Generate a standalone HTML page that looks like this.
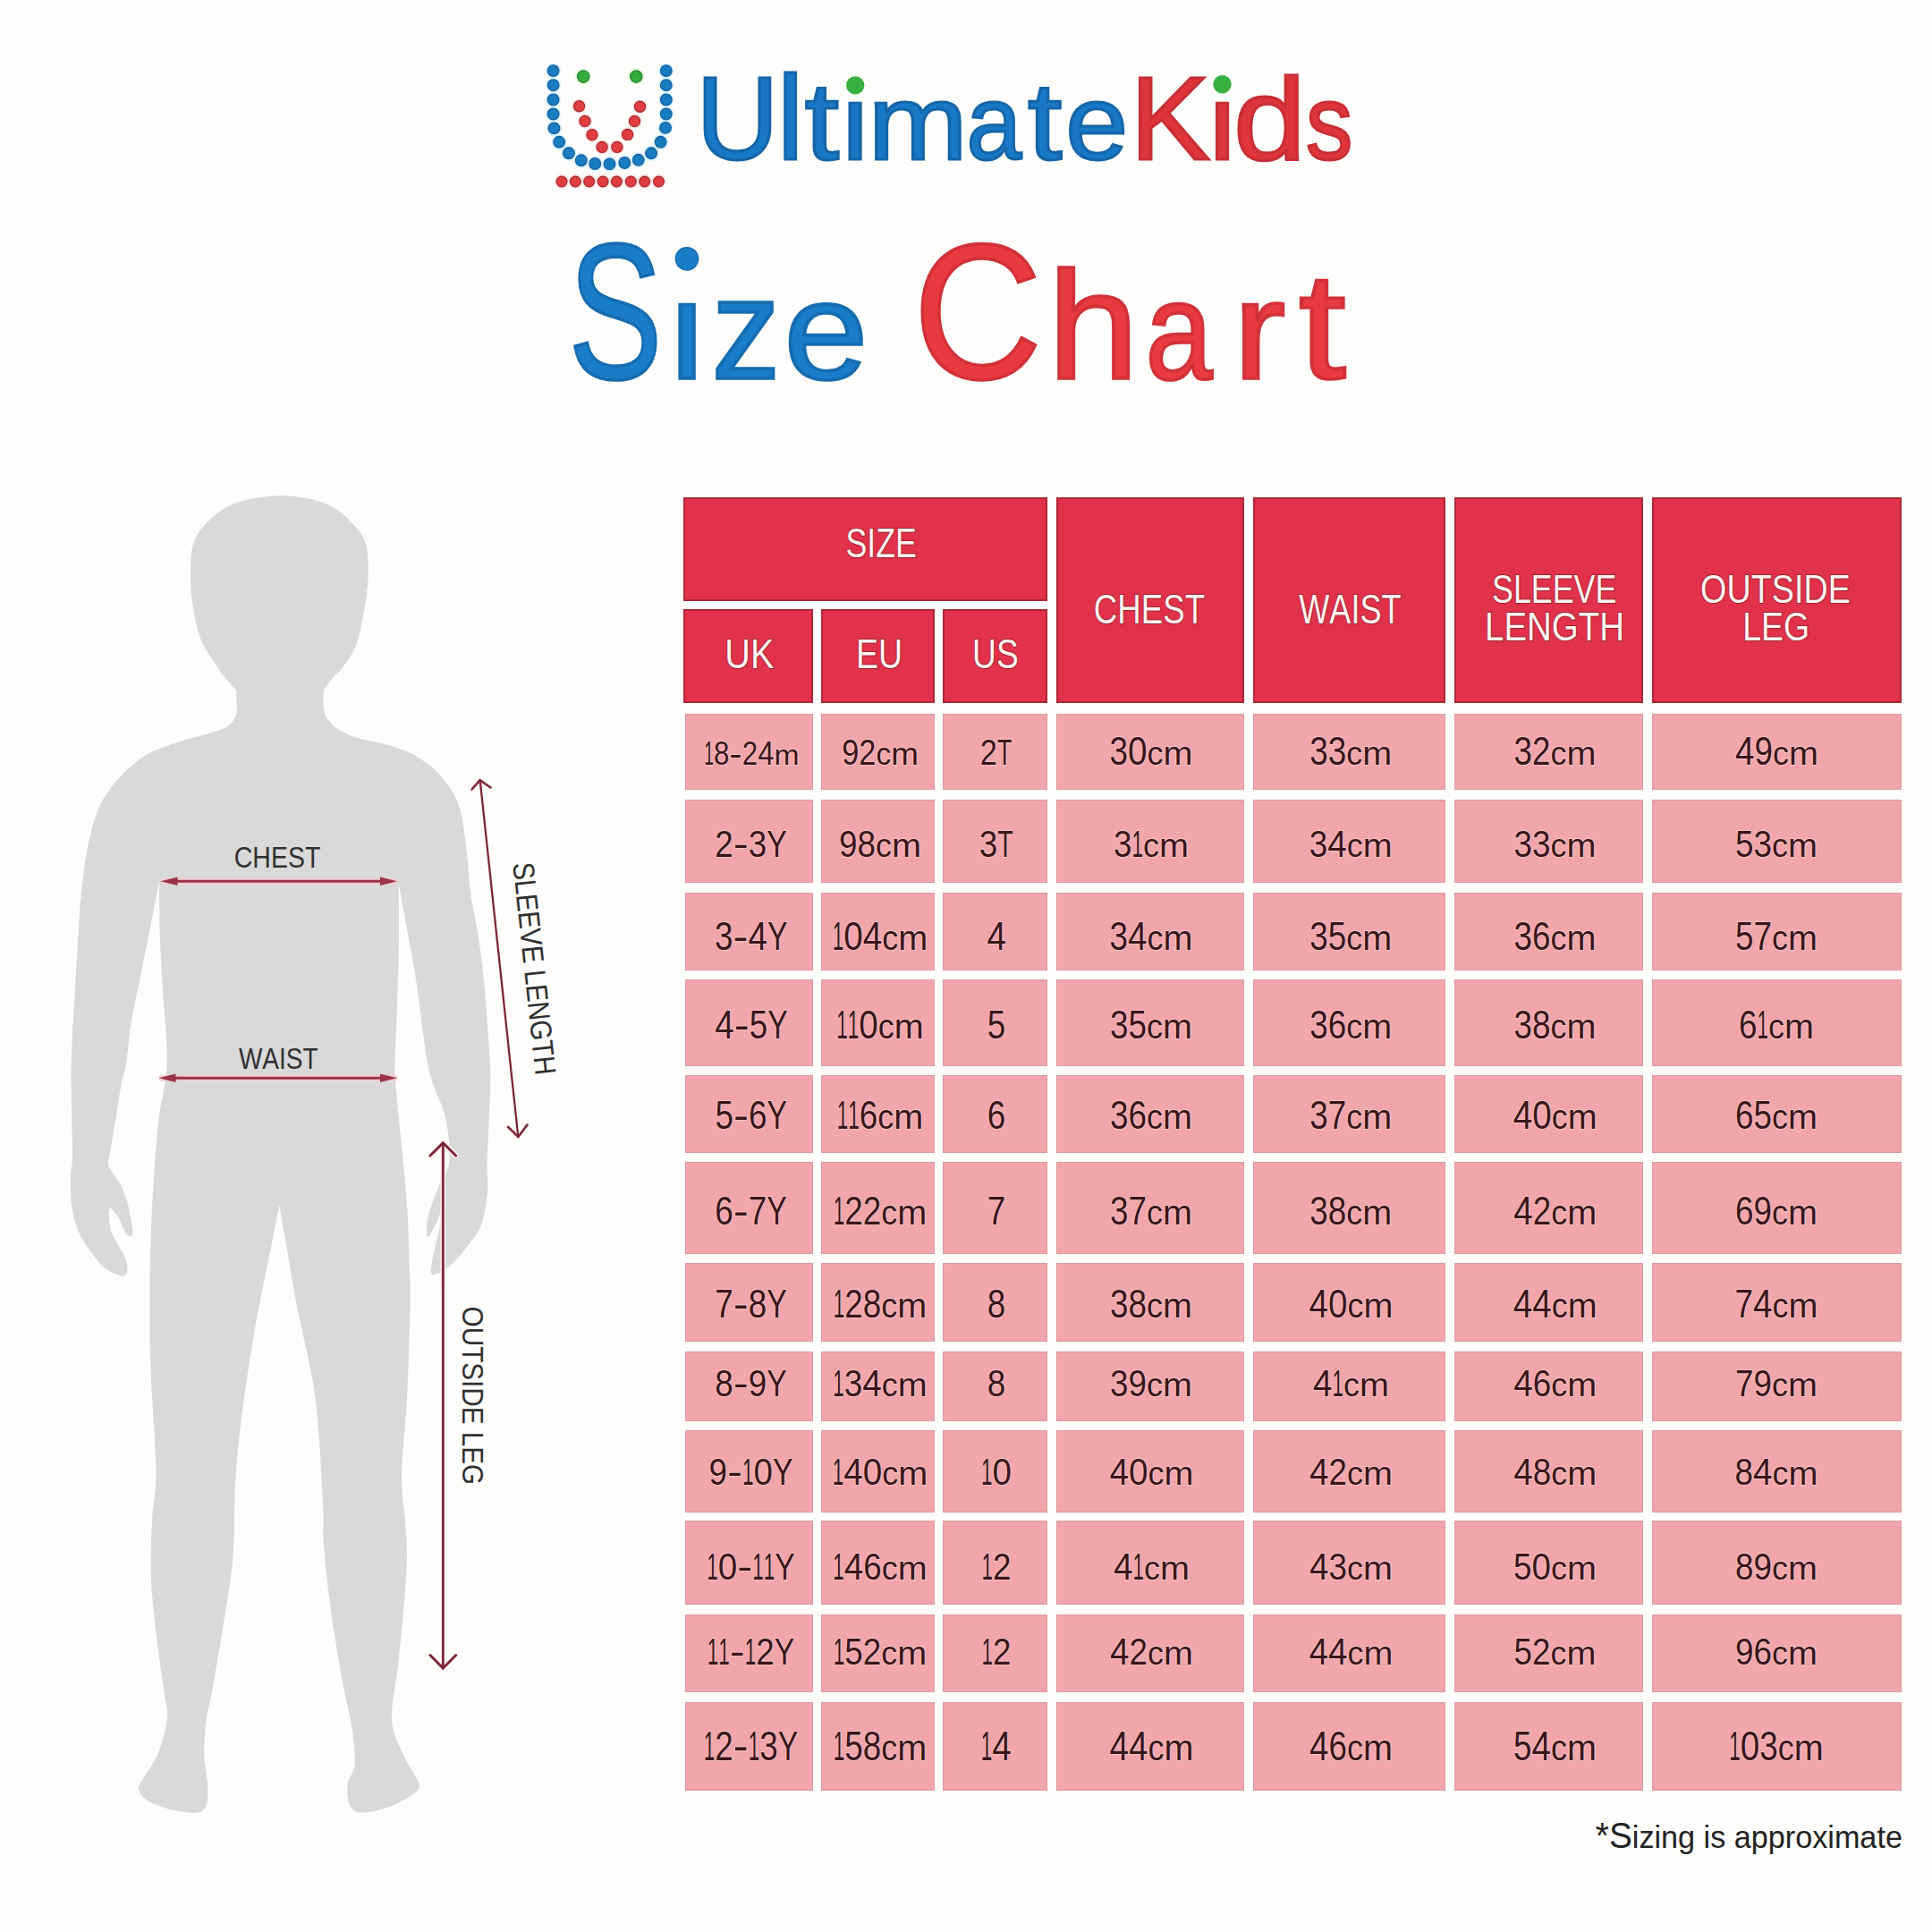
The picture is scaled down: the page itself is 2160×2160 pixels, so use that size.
<!DOCTYPE html>
<html><head><meta charset="utf-8"><title>UltimateKids Size Chart</title>
<style>
html,body{margin:0;padding:0}
body{width:2160px;height:2160px;position:relative;overflow:hidden;background:#fdfdfb;font-family:"Liberation Sans",Arial,sans-serif}
.c,.h{position:absolute;box-sizing:border-box}
.c{background:#f2a5aa;border:1px solid #d99ba2}
.h{background:#e2314a;border:2px solid #ad2638}
svg{position:absolute;left:0;top:0}
text{font-kerning:none}
</style></head>
<body>
<div class="h" style="left:764px;top:556px;width:407.0px;height:116.0px"></div><div class="h" style="left:764px;top:681px;width:145.0px;height:104.8px"></div><div class="h" style="left:918px;top:681px;width:127.3px;height:104.8px"></div><div class="h" style="left:1054.3px;top:681px;width:116.7px;height:104.8px"></div><div class="h" style="left:1181px;top:556px;width:210.0px;height:229.8px"></div><div class="h" style="left:1401px;top:556px;width:214.5px;height:229.8px"></div><div class="h" style="left:1625.5px;top:556px;width:211.5px;height:229.8px"></div><div class="h" style="left:1847px;top:556px;width:279.0px;height:229.8px"></div>
<div class="c" style="left:766px;top:798px;width:143.0px;height:84.7px"></div><div class="c" style="left:918px;top:798px;width:127.3px;height:84.7px"></div><div class="c" style="left:1054.3px;top:798px;width:116.7px;height:84.7px"></div><div class="c" style="left:1181px;top:798px;width:210.0px;height:84.7px"></div><div class="c" style="left:1401px;top:798px;width:214.5px;height:84.7px"></div><div class="c" style="left:1625.5px;top:798px;width:211.5px;height:84.7px"></div><div class="c" style="left:1847px;top:798px;width:279.0px;height:84.7px"></div><div class="c" style="left:766px;top:893.5px;width:143.0px;height:93.5px"></div><div class="c" style="left:918px;top:893.5px;width:127.3px;height:93.5px"></div><div class="c" style="left:1054.3px;top:893.5px;width:116.7px;height:93.5px"></div><div class="c" style="left:1181px;top:893.5px;width:210.0px;height:93.5px"></div><div class="c" style="left:1401px;top:893.5px;width:214.5px;height:93.5px"></div><div class="c" style="left:1625.5px;top:893.5px;width:211.5px;height:93.5px"></div><div class="c" style="left:1847px;top:893.5px;width:279.0px;height:93.5px"></div><div class="c" style="left:766px;top:997.5px;width:143.0px;height:87.3px"></div><div class="c" style="left:918px;top:997.5px;width:127.3px;height:87.3px"></div><div class="c" style="left:1054.3px;top:997.5px;width:116.7px;height:87.3px"></div><div class="c" style="left:1181px;top:997.5px;width:210.0px;height:87.3px"></div><div class="c" style="left:1401px;top:997.5px;width:214.5px;height:87.3px"></div><div class="c" style="left:1625.5px;top:997.5px;width:211.5px;height:87.3px"></div><div class="c" style="left:1847px;top:997.5px;width:279.0px;height:87.3px"></div><div class="c" style="left:766px;top:1094.8px;width:143.0px;height:97.5px"></div><div class="c" style="left:918px;top:1094.8px;width:127.3px;height:97.5px"></div><div class="c" style="left:1054.3px;top:1094.8px;width:116.7px;height:97.5px"></div><div class="c" style="left:1181px;top:1094.8px;width:210.0px;height:97.5px"></div><div class="c" style="left:1401px;top:1094.8px;width:214.5px;height:97.5px"></div><div class="c" style="left:1625.5px;top:1094.8px;width:211.5px;height:97.5px"></div><div class="c" style="left:1847px;top:1094.8px;width:279.0px;height:97.5px"></div><div class="c" style="left:766px;top:1202.3px;width:143.0px;height:86.8px"></div><div class="c" style="left:918px;top:1202.3px;width:127.3px;height:86.8px"></div><div class="c" style="left:1054.3px;top:1202.3px;width:116.7px;height:86.8px"></div><div class="c" style="left:1181px;top:1202.3px;width:210.0px;height:86.8px"></div><div class="c" style="left:1401px;top:1202.3px;width:214.5px;height:86.8px"></div><div class="c" style="left:1625.5px;top:1202.3px;width:211.5px;height:86.8px"></div><div class="c" style="left:1847px;top:1202.3px;width:279.0px;height:86.8px"></div><div class="c" style="left:766px;top:1299px;width:143.0px;height:103.4px"></div><div class="c" style="left:918px;top:1299px;width:127.3px;height:103.4px"></div><div class="c" style="left:1054.3px;top:1299px;width:116.7px;height:103.4px"></div><div class="c" style="left:1181px;top:1299px;width:210.0px;height:103.4px"></div><div class="c" style="left:1401px;top:1299px;width:214.5px;height:103.4px"></div><div class="c" style="left:1625.5px;top:1299px;width:211.5px;height:103.4px"></div><div class="c" style="left:1847px;top:1299px;width:279.0px;height:103.4px"></div><div class="c" style="left:766px;top:1412.3px;width:143.0px;height:87.8px"></div><div class="c" style="left:918px;top:1412.3px;width:127.3px;height:87.8px"></div><div class="c" style="left:1054.3px;top:1412.3px;width:116.7px;height:87.8px"></div><div class="c" style="left:1181px;top:1412.3px;width:210.0px;height:87.8px"></div><div class="c" style="left:1401px;top:1412.3px;width:214.5px;height:87.8px"></div><div class="c" style="left:1625.5px;top:1412.3px;width:211.5px;height:87.8px"></div><div class="c" style="left:1847px;top:1412.3px;width:279.0px;height:87.8px"></div><div class="c" style="left:766px;top:1510.9px;width:143.0px;height:78.2px"></div><div class="c" style="left:918px;top:1510.9px;width:127.3px;height:78.2px"></div><div class="c" style="left:1054.3px;top:1510.9px;width:116.7px;height:78.2px"></div><div class="c" style="left:1181px;top:1510.9px;width:210.0px;height:78.2px"></div><div class="c" style="left:1401px;top:1510.9px;width:214.5px;height:78.2px"></div><div class="c" style="left:1625.5px;top:1510.9px;width:211.5px;height:78.2px"></div><div class="c" style="left:1847px;top:1510.9px;width:279.0px;height:78.2px"></div><div class="c" style="left:766px;top:1599px;width:143.0px;height:91.5px"></div><div class="c" style="left:918px;top:1599px;width:127.3px;height:91.5px"></div><div class="c" style="left:1054.3px;top:1599px;width:116.7px;height:91.5px"></div><div class="c" style="left:1181px;top:1599px;width:210.0px;height:91.5px"></div><div class="c" style="left:1401px;top:1599px;width:214.5px;height:91.5px"></div><div class="c" style="left:1625.5px;top:1599px;width:211.5px;height:91.5px"></div><div class="c" style="left:1847px;top:1599px;width:279.0px;height:91.5px"></div><div class="c" style="left:766px;top:1700px;width:143.0px;height:94.3px"></div><div class="c" style="left:918px;top:1700px;width:127.3px;height:94.3px"></div><div class="c" style="left:1054.3px;top:1700px;width:116.7px;height:94.3px"></div><div class="c" style="left:1181px;top:1700px;width:210.0px;height:94.3px"></div><div class="c" style="left:1401px;top:1700px;width:214.5px;height:94.3px"></div><div class="c" style="left:1625.5px;top:1700px;width:211.5px;height:94.3px"></div><div class="c" style="left:1847px;top:1700px;width:279.0px;height:94.3px"></div><div class="c" style="left:766px;top:1805px;width:143.0px;height:86.6px"></div><div class="c" style="left:918px;top:1805px;width:127.3px;height:86.6px"></div><div class="c" style="left:1054.3px;top:1805px;width:116.7px;height:86.6px"></div><div class="c" style="left:1181px;top:1805px;width:210.0px;height:86.6px"></div><div class="c" style="left:1401px;top:1805px;width:214.5px;height:86.6px"></div><div class="c" style="left:1625.5px;top:1805px;width:211.5px;height:86.6px"></div><div class="c" style="left:1847px;top:1805px;width:279.0px;height:86.6px"></div><div class="c" style="left:766px;top:1902.5px;width:143.0px;height:99.0px"></div><div class="c" style="left:918px;top:1902.5px;width:127.3px;height:99.0px"></div><div class="c" style="left:1054.3px;top:1902.5px;width:116.7px;height:99.0px"></div><div class="c" style="left:1181px;top:1902.5px;width:210.0px;height:99.0px"></div><div class="c" style="left:1401px;top:1902.5px;width:214.5px;height:99.0px"></div><div class="c" style="left:1625.5px;top:1902.5px;width:211.5px;height:99.0px"></div><div class="c" style="left:1847px;top:1902.5px;width:279.0px;height:99.0px"></div>
<svg width="2160" height="2160" viewBox="0 0 2160 2160" font-family="Liberation Sans, Arial, sans-serif">
<g id="logo">
<circle cx="618.6" cy="79.1" r="8.6" fill="#d6f1ff"/>
<circle cx="618.6" cy="95.2" r="8.6" fill="#d6f1ff"/>
<circle cx="618.6" cy="111.5" r="8.6" fill="#d6f1ff"/>
<circle cx="618.6" cy="127.5" r="8.6" fill="#d6f1ff"/>
<circle cx="619.5" cy="143.4" r="8.6" fill="#d6f1ff"/>
<circle cx="625.2" cy="158.8" r="8.6" fill="#d6f1ff"/>
<circle cx="635.9" cy="171.3" r="8.6" fill="#d6f1ff"/>
<circle cx="649.8" cy="179.3" r="8.6" fill="#d6f1ff"/>
<circle cx="665.2" cy="183" r="8.6" fill="#d6f1ff"/>
<circle cx="681.5" cy="183.4" r="8.6" fill="#d6f1ff"/>
<circle cx="698.3" cy="182" r="8.6" fill="#d6f1ff"/>
<circle cx="713.7" cy="178.8" r="8.6" fill="#d6f1ff"/>
<circle cx="728.1" cy="171.3" r="8.6" fill="#d6f1ff"/>
<circle cx="738.6" cy="158.8" r="8.6" fill="#d6f1ff"/>
<circle cx="744" cy="142.9" r="8.6" fill="#d6f1ff"/>
<circle cx="744.8" cy="127.5" r="8.6" fill="#d6f1ff"/>
<circle cx="744.8" cy="111.5" r="8.6" fill="#d6f1ff"/>
<circle cx="744.8" cy="95.2" r="8.6" fill="#d6f1ff"/>
<circle cx="744.8" cy="79.1" r="8.6" fill="#d6f1ff"/>
<circle cx="647.5" cy="118.7" r="8.2" fill="#fde3e3"/>
<circle cx="654" cy="135.5" r="8.2" fill="#fde3e3"/>
<circle cx="662" cy="150.8" r="8.2" fill="#fde3e3"/>
<circle cx="673.1" cy="164.4" r="8.2" fill="#fde3e3"/>
<circle cx="689.9" cy="164.4" r="8.2" fill="#fde3e3"/>
<circle cx="701.6" cy="150.4" r="8.2" fill="#fde3e3"/>
<circle cx="709.5" cy="135.5" r="8.2" fill="#fde3e3"/>
<circle cx="715.5" cy="119.2" r="8.2" fill="#fde3e3"/>
<circle cx="628" cy="203" r="8.2" fill="#fde3e3"/>
<circle cx="643.3" cy="203" r="8.2" fill="#fde3e3"/>
<circle cx="658.7" cy="203" r="8.2" fill="#fde3e3"/>
<circle cx="674.1" cy="203" r="8.2" fill="#fde3e3"/>
<circle cx="689.4" cy="203" r="8.2" fill="#fde3e3"/>
<circle cx="705.3" cy="203" r="8.2" fill="#fde3e3"/>
<circle cx="720.7" cy="203" r="8.2" fill="#fde3e3"/>
<circle cx="736.5" cy="203" r="8.2" fill="#fde3e3"/>
<circle cx="652.2" cy="85.6" r="9" fill="#e2f8dc"/>
<circle cx="711.3" cy="85.6" r="9" fill="#e2f8dc"/>
<circle cx="618.6" cy="79.1" r="6.3" fill="#1a7cc0" stroke="#145f9e" stroke-width="1.3"/>
<circle cx="618.6" cy="95.2" r="6.3" fill="#1a7cc0" stroke="#145f9e" stroke-width="1.3"/>
<circle cx="618.6" cy="111.5" r="6.3" fill="#1a7cc0" stroke="#145f9e" stroke-width="1.3"/>
<circle cx="618.6" cy="127.5" r="6.3" fill="#1a7cc0" stroke="#145f9e" stroke-width="1.3"/>
<circle cx="619.5" cy="143.4" r="6.3" fill="#1a7cc0" stroke="#145f9e" stroke-width="1.3"/>
<circle cx="625.2" cy="158.8" r="6.3" fill="#1a7cc0" stroke="#145f9e" stroke-width="1.3"/>
<circle cx="635.9" cy="171.3" r="6.3" fill="#1a7cc0" stroke="#145f9e" stroke-width="1.3"/>
<circle cx="649.8" cy="179.3" r="6.3" fill="#1a7cc0" stroke="#145f9e" stroke-width="1.3"/>
<circle cx="665.2" cy="183" r="6.3" fill="#1a7cc0" stroke="#145f9e" stroke-width="1.3"/>
<circle cx="681.5" cy="183.4" r="6.3" fill="#1a7cc0" stroke="#145f9e" stroke-width="1.3"/>
<circle cx="698.3" cy="182" r="6.3" fill="#1a7cc0" stroke="#145f9e" stroke-width="1.3"/>
<circle cx="713.7" cy="178.8" r="6.3" fill="#1a7cc0" stroke="#145f9e" stroke-width="1.3"/>
<circle cx="728.1" cy="171.3" r="6.3" fill="#1a7cc0" stroke="#145f9e" stroke-width="1.3"/>
<circle cx="738.6" cy="158.8" r="6.3" fill="#1a7cc0" stroke="#145f9e" stroke-width="1.3"/>
<circle cx="744" cy="142.9" r="6.3" fill="#1a7cc0" stroke="#145f9e" stroke-width="1.3"/>
<circle cx="744.8" cy="127.5" r="6.3" fill="#1a7cc0" stroke="#145f9e" stroke-width="1.3"/>
<circle cx="744.8" cy="111.5" r="6.3" fill="#1a7cc0" stroke="#145f9e" stroke-width="1.3"/>
<circle cx="744.8" cy="95.2" r="6.3" fill="#1a7cc0" stroke="#145f9e" stroke-width="1.3"/>
<circle cx="744.8" cy="79.1" r="6.3" fill="#1a7cc0" stroke="#145f9e" stroke-width="1.3"/>
<circle cx="647.5" cy="118.7" r="6.1" fill="#e03d42" stroke="#a9282f" stroke-width="1.2"/>
<circle cx="654" cy="135.5" r="6.1" fill="#e03d42" stroke="#a9282f" stroke-width="1.2"/>
<circle cx="662" cy="150.8" r="6.1" fill="#e03d42" stroke="#a9282f" stroke-width="1.2"/>
<circle cx="673.1" cy="164.4" r="6.1" fill="#e03d42" stroke="#a9282f" stroke-width="1.2"/>
<circle cx="689.9" cy="164.4" r="6.1" fill="#e03d42" stroke="#a9282f" stroke-width="1.2"/>
<circle cx="701.6" cy="150.4" r="6.1" fill="#e03d42" stroke="#a9282f" stroke-width="1.2"/>
<circle cx="709.5" cy="135.5" r="6.1" fill="#e03d42" stroke="#a9282f" stroke-width="1.2"/>
<circle cx="715.5" cy="119.2" r="6.1" fill="#e03d42" stroke="#a9282f" stroke-width="1.2"/>
<circle cx="628" cy="203" r="5.9" fill="#e03d42" stroke="#a9282f" stroke-width="1.2"/>
<circle cx="643.3" cy="203" r="5.9" fill="#e03d42" stroke="#a9282f" stroke-width="1.2"/>
<circle cx="658.7" cy="203" r="5.9" fill="#e03d42" stroke="#a9282f" stroke-width="1.2"/>
<circle cx="674.1" cy="203" r="5.9" fill="#e03d42" stroke="#a9282f" stroke-width="1.2"/>
<circle cx="689.4" cy="203" r="5.9" fill="#e03d42" stroke="#a9282f" stroke-width="1.2"/>
<circle cx="705.3" cy="203" r="5.9" fill="#e03d42" stroke="#a9282f" stroke-width="1.2"/>
<circle cx="720.7" cy="203" r="5.9" fill="#e03d42" stroke="#a9282f" stroke-width="1.2"/>
<circle cx="736.5" cy="203" r="5.9" fill="#e03d42" stroke="#a9282f" stroke-width="1.2"/>
<circle cx="652.2" cy="85.6" r="6.7" fill="#33ad3c" stroke="#24822d" stroke-width="1.2"/>
<circle cx="711.3" cy="85.6" r="6.7" fill="#33ad3c" stroke="#24822d" stroke-width="1.2"/>
</g>
<g id="brand" lengthAdjust="spacingAndGlyphs">
<text y="177.5" fill="#1878c6" stroke="#1565a8" stroke-width="3.0" lengthAdjust="spacingAndGlyphs"><tspan x="778.3" font-size="132.3" textLength="92.5" lengthAdjust="spacingAndGlyphs">U</tspan><tspan x="868.7" font-size="133.9" textLength="29.8" lengthAdjust="spacingAndGlyphs">l</tspan><tspan x="899.8" font-size="123.1" textLength="38.3" lengthAdjust="spacingAndGlyphs">t</tspan><tspan x="941.3" font-size="119.2" textLength="29.7" lengthAdjust="spacingAndGlyphs">i</tspan><tspan x="970.5" font-size="119.2" textLength="111.3" lengthAdjust="spacingAndGlyphs">m</tspan><tspan x="1080.5" font-size="119.2" textLength="61.7" lengthAdjust="spacingAndGlyphs">a</tspan><tspan x="1149.1" font-size="123.1" textLength="38.3" lengthAdjust="spacingAndGlyphs">t</tspan><tspan x="1191.3" font-size="119.2" textLength="70.0" lengthAdjust="spacingAndGlyphs">e</tspan></text>
<text y="177.5" fill="#de353b" stroke="#c92e35" stroke-width="3.0" lengthAdjust="spacingAndGlyphs"><tspan x="1263.4" font-size="132.3" textLength="89.2" lengthAdjust="spacingAndGlyphs">K</tspan><tspan x="1351.7" font-size="119.2" textLength="29.7" lengthAdjust="spacingAndGlyphs">i</tspan><tspan x="1379.0" font-size="129.8" textLength="80.9" lengthAdjust="spacingAndGlyphs">d</tspan><tspan x="1459.9" font-size="119.2" textLength="52.4" lengthAdjust="spacingAndGlyphs">s</tspan></text>
<rect x="946.5" y="86" width="19" height="21" fill="#fdfdfb"/><rect x="1356.5" y="86" width="20" height="21" fill="#fdfdfb"/>
<circle cx="956.2" cy="95.4" r="10.2" fill="#38b040"/>
<circle cx="1366.5" cy="94.2" r="10.2" fill="#38b040"/>
</g>
<g id="title">
<text y="423.2" fill="#197dca" stroke="#156cb0" stroke-width="3.6" lengthAdjust="spacingAndGlyphs"><tspan x="635.4" font-size="215.7" textLength="105.0" lengthAdjust="spacingAndGlyphs">S</tspan><tspan x="748.7" font-size="156.0" textLength="38.8" lengthAdjust="spacingAndGlyphs">i</tspan><tspan x="795.7" font-size="159.0" textLength="76.5" lengthAdjust="spacingAndGlyphs">z</tspan><tspan x="876.5" font-size="155.9" textLength="93.9" lengthAdjust="spacingAndGlyphs">e</tspan></text>
<rect x="752" y="304.6" width="32" height="25.0" fill="#fdfdfb"/>
<circle cx="768" cy="289.3" r="12.6" fill="#197dca" stroke="#156cb0" stroke-width="1.5"/>
<text y="423.2" fill="#e83a3f" stroke="#d23139" stroke-width="3.6" lengthAdjust="spacingAndGlyphs"><tspan x="1021.1" font-size="215.7" textLength="144.1" lengthAdjust="spacingAndGlyphs">C</tspan><tspan x="1171.4" font-size="170.0" textLength="101.6" lengthAdjust="spacingAndGlyphs">h</tspan><tspan x="1280.7" font-size="155.9" textLength="74.7" lengthAdjust="spacingAndGlyphs">a</tspan><tspan x="1379.0" font-size="155.9" textLength="58.1" lengthAdjust="spacingAndGlyphs">r</tspan><tspan x="1452.0" font-size="169.3" textLength="52.7" lengthAdjust="spacingAndGlyphs">t</tspan></text>
</g>
<path id="figure" d="M309.0,554.5 C322.2,553.8 335.0,555.4 345.5,557.5 C356.0,559.6 364.2,562.8 372.0,567.0 C379.8,571.2 385.9,576.3 392.0,583.0 C398.1,589.7 405.6,596.5 408.8,607.3 C412.1,618.1 411.9,634.2 411.5,647.7 C411.1,661.2 408.4,675.7 406.1,688.0 C403.9,700.3 401.8,712.1 398.0,721.7 C394.2,731.4 387.5,739.9 383.2,745.9 C378.9,751.9 375.5,753.8 372.0,758.0 C368.5,762.2 362.0,771.0 362.0,771.0 C362.0,771.0 361.2,781.2 361.5,786.0 C361.8,790.8 361.8,795.5 364.0,800.0 C366.2,804.5 369.8,809.1 374.8,813.0 C379.8,816.9 387.2,820.6 394.2,823.3 C401.2,826.0 409.3,827.1 416.9,829.0 C424.5,830.9 432.1,832.2 439.7,834.7 C447.3,837.2 454.9,839.6 462.5,843.8 C470.1,848.0 479.0,854.2 485.3,859.7 C491.6,865.2 495.9,871.1 500.1,876.8 C504.3,882.5 507.7,888.2 510.3,893.9 C513.0,899.6 514.5,904.4 516.0,911.0 C517.5,917.6 518.4,925.3 519.5,933.8 C520.6,942.3 521.8,951.2 522.9,962.2 C524.0,973.2 524.3,986.1 526.3,1000.0 C528.2,1013.9 532.0,1028.8 534.6,1045.8 C537.2,1062.8 539.7,1083.1 541.6,1101.7 C543.5,1120.3 544.7,1141.2 545.8,1157.6 C546.9,1174.0 548.1,1185.0 548.3,1200.0 C548.5,1215.0 547.6,1230.5 547.0,1247.3 C546.4,1264.1 544.8,1287.2 544.5,1301.0 C544.2,1314.8 546.2,1318.8 545.2,1330.0 C544.2,1341.2 542.4,1357.5 538.4,1368.4 C534.4,1379.3 527.2,1387.2 521.0,1395.3 C514.8,1403.4 507.0,1412.0 501.0,1417.0 C495.0,1422.0 488.2,1424.5 485.0,1425.0 C481.8,1425.5 481.5,1420.0 481.5,1420.0 C481.5,1420.0 483.4,1407.5 485.0,1400.0 C486.6,1392.5 489.5,1383.3 491.0,1375.0 C492.5,1366.7 494.0,1350.0 494.0,1350.0 C494.0,1350.0 491.2,1360.0 489.0,1365.0 C486.8,1370.0 482.9,1377.0 481.0,1380.0 C479.1,1383.0 477.5,1383.0 477.5,1383.0 C477.5,1383.0 476.4,1375.2 477.0,1370.0 C477.6,1364.8 478.8,1359.0 481.0,1352.0 C483.2,1345.0 486.5,1336.5 490.0,1328.0 C493.5,1319.5 500.2,1311.1 502.0,1301.0 C503.8,1290.9 502.1,1277.6 501.0,1267.5 C499.9,1257.4 498.1,1249.6 495.4,1240.6 C492.7,1231.6 487.8,1223.7 484.6,1213.6 C481.5,1203.5 479.6,1198.7 476.5,1180.0 C473.4,1161.3 469.5,1124.1 466.1,1101.7 C462.7,1079.3 459.7,1064.7 456.3,1045.8 C452.9,1026.9 445.9,988.5 445.9,988.5 C445.9,988.5 446.2,1036.2 445.9,1059.7 C445.5,1083.2 444.5,1107.9 443.8,1129.6 C443.1,1151.3 441.6,1174.9 441.5,1190.0 C441.4,1205.1 441.4,1201.9 443.0,1220.4 C444.6,1238.9 448.9,1278.7 451.0,1301.1 C453.1,1323.5 454.4,1337.3 455.5,1355.0 C456.6,1372.7 457.0,1389.7 457.5,1407.0 C458.0,1424.3 458.9,1432.9 458.5,1458.8 C458.1,1484.7 456.6,1530.4 455.0,1562.3 C453.4,1594.2 449.3,1627.0 449.0,1650.0 C448.7,1673.0 452.0,1685.0 453.0,1700.0 C454.0,1715.0 455.2,1725.0 455.0,1740.0 C454.8,1755.0 453.6,1770.5 452.0,1790.0 C450.4,1809.5 447.9,1835.0 445.6,1857.0 C443.3,1879.0 437.3,1904.5 438.0,1921.7 C438.7,1938.9 445.7,1949.5 450.0,1960.0 C454.3,1970.5 460.8,1979.0 464.0,1985.0 C467.2,1991.0 469.2,1992.7 469.0,1996.0 C468.8,1999.3 468.6,2001.0 463.0,2005.0 C457.4,2009.0 445.1,2016.5 435.3,2020.1 C425.5,2023.7 411.6,2026.9 404.2,2026.6 C396.8,2026.2 393.6,2023.4 391.0,2018.0 C388.4,2012.6 387.8,2001.6 388.7,1994.2 C389.6,1986.8 395.5,1983.4 396.4,1973.5 C397.3,1963.6 396.0,1949.8 393.9,1934.7 C391.8,1919.6 387.4,1904.5 383.5,1882.9 C379.6,1861.3 374.2,1831.2 370.6,1805.3 C367.0,1779.4 363.6,1748.5 362.0,1727.6 C360.4,1706.7 362.6,1707.5 361.0,1680.0 C359.4,1652.5 357.3,1599.2 352.4,1562.3 C347.5,1525.4 337.4,1489.2 331.7,1458.8 C326.0,1428.4 321.2,1398.5 318.0,1380.0 C314.8,1361.5 312.3,1347.5 312.3,1347.5 C312.3,1347.5 310.5,1357.1 306.0,1380.0 C301.5,1402.9 291.3,1450.0 285.2,1484.7 C279.1,1519.4 273.3,1559.0 269.6,1588.2 C265.9,1617.4 264.5,1634.7 263.0,1660.0 C261.5,1685.3 262.4,1715.8 260.5,1740.0 C258.6,1764.2 255.2,1781.5 251.5,1805.3 C247.8,1829.1 242.0,1863.5 238.6,1882.9 C235.2,1902.3 232.5,1908.8 230.8,1921.7 C229.1,1934.7 228.0,1948.5 228.2,1960.6 C228.4,1972.7 231.7,1984.7 232.1,1994.2 C232.5,2003.7 232.7,2012.1 230.8,2017.5 C228.9,2022.9 227.4,2025.7 220.5,2026.6 C213.6,2027.5 198.9,2025.1 189.4,2022.7 C179.9,2020.3 169.2,2016.1 163.5,2012.3 C157.8,2008.5 155.9,2003.5 155.0,2000.0 C154.1,1996.5 154.7,1998.2 158.3,1991.6 C161.9,1985.0 171.8,1972.2 176.5,1960.6 C181.2,1948.9 185.5,1932.5 186.8,1921.7 C188.1,1910.9 186.1,1911.0 184.2,1895.9 C182.3,1880.8 177.7,1852.8 175.2,1831.2 C172.7,1809.6 169.9,1788.4 169.0,1766.5 C168.1,1744.6 169.1,1720.2 170.0,1700.0 C170.9,1679.8 174.7,1672.3 174.5,1645.0 C174.3,1617.7 169.9,1567.4 168.7,1536.4 C167.5,1505.4 167.4,1484.7 167.4,1458.8 C167.4,1432.9 167.8,1407.5 168.7,1381.2 C169.6,1354.9 171.4,1323.4 173.0,1301.0 C174.6,1278.6 176.2,1261.5 178.0,1247.0 C179.8,1232.5 182.6,1223.5 184.0,1214.0 C185.4,1204.5 186.2,1199.4 186.5,1190.0 C186.8,1180.6 186.6,1172.3 185.8,1157.6 C185.0,1142.9 182.8,1120.3 181.6,1101.7 C180.4,1083.1 179.4,1065.1 178.8,1045.8 C178.2,1026.5 178.1,985.7 178.1,985.7 C178.1,985.7 172.4,1014.8 169.0,1031.8 C165.6,1048.8 161.5,1069.1 157.8,1087.7 C154.1,1106.3 149.4,1126.5 146.6,1143.6 C143.8,1160.6 142.9,1178.3 141.0,1190.0 C139.1,1201.7 137.2,1204.0 135.4,1213.6 C133.6,1223.1 132.0,1234.9 130.0,1247.3 C128.0,1259.7 124.7,1278.3 123.3,1287.7 C121.9,1297.1 119.5,1297.5 121.5,1303.8 C123.5,1310.1 131.8,1318.0 135.4,1325.4 C139.1,1332.8 141.3,1340.1 143.4,1348.2 C145.5,1356.3 147.5,1368.2 148.2,1373.8 C148.9,1379.4 147.5,1381.9 147.5,1381.9 C147.5,1381.9 143.3,1382.6 140.8,1379.2 C138.3,1375.8 135.7,1366.6 132.7,1361.7 C129.7,1356.8 122.6,1349.6 122.6,1349.6 C122.6,1349.6 121.6,1355.6 121.9,1360.3 C122.2,1365.0 122.8,1372.4 124.6,1377.8 C126.4,1383.2 130.0,1387.5 132.7,1392.7 C135.4,1397.9 139.2,1403.9 140.8,1408.8 C142.4,1413.7 143.0,1419.4 142.1,1422.3 C141.2,1425.2 139.7,1427.2 135.4,1426.3 C131.1,1425.4 122.3,1421.6 116.5,1416.9 C110.7,1412.2 105.3,1405.0 100.4,1398.0 C95.5,1391.0 90.3,1383.5 86.9,1375.2 C83.5,1366.9 81.6,1358.3 80.2,1348.2 C78.8,1338.1 78.7,1323.6 78.8,1314.6 C78.9,1305.6 80.8,1305.6 81.0,1294.4 C81.2,1283.2 80.4,1264.7 80.2,1247.3 C80.0,1229.9 79.2,1209.6 79.6,1190.0 C80.0,1170.4 81.4,1149.0 82.4,1129.6 C83.5,1110.2 84.8,1092.0 85.9,1073.7 C87.0,1055.4 87.9,1034.8 89.0,1020.0 C90.1,1005.2 91.3,995.3 92.5,985.0 C93.7,974.7 94.7,966.2 96.0,958.0 C97.3,949.8 98.8,943.2 100.5,936.0 C102.2,928.8 103.8,921.7 106.0,915.0 C108.2,908.3 110.7,902.2 114.0,896.0 C117.3,889.8 121.2,884.0 126.0,878.0 C130.8,872.0 136.2,866.0 143.0,860.0 C149.8,854.0 157.6,847.1 167.0,842.1 C176.4,837.1 188.1,833.4 199.3,829.7 C210.5,826.0 224.9,822.7 234.0,819.8 C243.1,816.9 248.9,815.6 253.9,812.3 C258.9,809.0 262.1,804.3 263.9,799.9 C265.7,795.5 264.5,790.6 264.5,786.0 C264.5,781.4 264.0,772.0 264.0,772.0 C264.0,772.0 255.9,763.0 252.0,758.0 C248.1,753.0 245.2,749.1 240.6,741.9 C236.0,734.7 228.4,725.1 224.4,715.0 C220.4,704.9 218.2,692.5 216.3,681.3 C214.4,670.1 213.0,660.0 213.0,647.7 C213.0,635.4 212.6,618.5 216.3,607.3 C220.0,596.1 226.9,588.0 235.2,580.4 C243.5,572.8 253.8,565.8 266.1,561.5 C278.4,557.2 295.8,555.2 309.0,554.5Z" fill="#d9d9d9"/>
<g id="arrows">
<g stroke="#f6cdd2" stroke-width="7" stroke-linecap="round" opacity="0.9">
<line x1="183" y1="985.2" x2="441" y2="985.2"/>
<line x1="181" y1="1205.2" x2="441" y2="1205.2"/>
</g>
<g stroke="#9a3445" fill="#9a3445">
<line x1="195" y1="985.2" x2="428" y2="985.2" stroke-width="3"/>
<path d="M179.5,985.2 L198.5,980.4 L198.5,990Z" stroke="none"/>
<path d="M444,985.2 L425,980.4 L425,990Z" stroke="none"/>
<line x1="195" y1="1205.2" x2="428" y2="1205.2" stroke-width="3"/>
<path d="M177.5,1205.2 L196.5,1200.4 L196.5,1210Z" stroke="none"/>
<path d="M444,1205.2 L425,1200.4 L425,1210Z" stroke="none"/>
</g>
<g stroke="#fbeff1" fill="none" stroke-linecap="round" stroke-width="6">
<line x1="495.3" y1="1282" x2="495.3" y2="1440"/>
<polyline points="481,1292 495.3,1277.8 509.7,1292"/>
</g>
<g stroke="#7e2636" fill="none" stroke-linecap="round">
<line x1="536.8" y1="873" x2="579.2" y2="1270" stroke-width="2.3"/>
<polyline points="527.5,882.5 536.6,872.3 548.5,880.5" stroke-width="2.6"/>
<polyline points="568,1260 579.4,1271 589.5,1257.5" stroke-width="2.6"/>
<line x1="495.3" y1="1279" x2="495.3" y2="1865" stroke-width="2.8"/>
<polyline points="481,1292 495.3,1277.8 509.7,1292" stroke-width="3"/>
<polyline points="481,1850.5 495.3,1865 509.7,1850.5" stroke-width="3"/>
</g>
</g>
<g id="labels" fill="#303030" lengthAdjust="spacingAndGlyphs">
<text x="261.8" y="969.6" font-size="33.9" textLength="96.5" lengthAdjust="spacingAndGlyphs">CHEST</text>
<text x="266.9" y="1194.8" font-size="33.9" textLength="88.8" lengthAdjust="spacingAndGlyphs">WAIST</text>
<text transform="translate(597.4,1082.3) rotate(83.9)" x="-118.8" y="11.5" font-size="33.4" textLength="238.7" lengthAdjust="spacingAndGlyphs">SLEEVE LENGTH</text>
<text transform="translate(528.7,1560.0) rotate(90)" x="-99.4" y="11.5" font-size="33.4" textLength="199.6" lengthAdjust="spacingAndGlyphs">OUTSIDE LEG</text>
</g>
<g id="foot" fill="#222"><text x="1783.8" y="2065.8" font-size="40.0" textLength="343.1" lengthAdjust="spacingAndGlyphs">*S<tspan font-size="35.2">izing is approximate</tspan></text></g>
<g id="htext" fill="#fff4f2" stroke="#9e2233" stroke-width="2" paint-order="stroke" stroke-linejoin="round">
<text x="945.4" y="623.3" font-size="45.6" textLength="79.5" lengthAdjust="spacingAndGlyphs">SIZE</text><text x="810.2" y="747.1" font-size="45.6" textLength="55.2" lengthAdjust="spacingAndGlyphs">UK</text><text x="957.1" y="747.1" font-size="45.6" textLength="52.0" lengthAdjust="spacingAndGlyphs">EU</text><text x="1087.1" y="747.1" font-size="45.6" textLength="51.7" lengthAdjust="spacingAndGlyphs">US</text><text x="1222.8" y="696.6" font-size="46.7" textLength="124.3" lengthAdjust="spacingAndGlyphs">CHEST</text><text x="1452.2" y="696.6" font-size="46.7" textLength="114.4" lengthAdjust="spacingAndGlyphs">WAIST</text><text x="1668.0" y="673.9" font-size="43.8" textLength="139.4" lengthAdjust="spacingAndGlyphs">SLEEVE</text><text x="1660.0" y="715.7" font-size="44.6" textLength="156.1" lengthAdjust="spacingAndGlyphs">LENGTH</text><text x="1901.1" y="673.9" font-size="43.8" textLength="167.7" lengthAdjust="spacingAndGlyphs">OUTSIDE</text><text x="1948.2" y="715.7" font-size="44.6" textLength="74.9" lengthAdjust="spacingAndGlyphs">LEG</text>
</g>
<g id="ctext" fill="#3a1519" stroke="#f7c3c8" stroke-width="2" paint-order="stroke" stroke-linejoin="round">
<text y="854.8" font-size="36.3"><tspan x="787.3" textLength="10.6" lengthAdjust="spacingAndGlyphs">1</tspan><tspan x="797.9" textLength="17.4" lengthAdjust="spacingAndGlyphs">8</tspan><tspan x="815.3" textLength="14.4" lengthAdjust="spacingAndGlyphs">-</tspan><tspan x="829.8" textLength="17.4" lengthAdjust="spacingAndGlyphs">2</tspan><tspan x="847.2" textLength="18.3" lengthAdjust="spacingAndGlyphs">4</tspan><tspan x="865.5" font-size="31.3" textLength="28.1" lengthAdjust="spacingAndGlyphs">m</tspan></text><text y="854.8" font-size="40.3"><tspan x="941.3" textLength="19.1" lengthAdjust="spacingAndGlyphs">9</tspan><tspan x="960.3" textLength="19.1" lengthAdjust="spacingAndGlyphs">2</tspan><tspan x="979.4" font-size="34.6" textLength="16.7" lengthAdjust="spacingAndGlyphs">c</tspan><tspan x="996.2" font-size="34.6" textLength="30.7" lengthAdjust="spacingAndGlyphs">m</tspan></text><text y="854.8" font-size="40.3"><tspan x="1095.8" textLength="19.1" lengthAdjust="spacingAndGlyphs">2</tspan><tspan x="1114.9" textLength="16.3" lengthAdjust="spacingAndGlyphs">T</tspan></text><text y="854.8" font-size="43.6"><tspan x="1240.6" textLength="20.5" lengthAdjust="spacingAndGlyphs">3</tspan><tspan x="1261.1" textLength="21.5" lengthAdjust="spacingAndGlyphs">0</tspan><tspan x="1282.6" font-size="37.5" textLength="18.0" lengthAdjust="spacingAndGlyphs">c</tspan><tspan x="1300.6" font-size="37.5" textLength="33.0" lengthAdjust="spacingAndGlyphs">m</tspan></text><text y="854.8" font-size="43.6"><tspan x="1464.2" textLength="20.5" lengthAdjust="spacingAndGlyphs">3</tspan><tspan x="1484.7" textLength="20.5" lengthAdjust="spacingAndGlyphs">3</tspan><tspan x="1505.2" font-size="37.5" textLength="18.0" lengthAdjust="spacingAndGlyphs">c</tspan><tspan x="1523.2" font-size="37.5" textLength="33.0" lengthAdjust="spacingAndGlyphs">m</tspan></text><text y="854.8" font-size="43.6"><tspan x="1692.6" textLength="20.5" lengthAdjust="spacingAndGlyphs">3</tspan><tspan x="1713.1" textLength="20.5" lengthAdjust="spacingAndGlyphs">2</tspan><tspan x="1733.6" font-size="37.5" textLength="18.0" lengthAdjust="spacingAndGlyphs">c</tspan><tspan x="1751.6" font-size="37.5" textLength="33.0" lengthAdjust="spacingAndGlyphs">m</tspan></text><text y="854.8" font-size="43.6"><tspan x="1939.9" textLength="21.5" lengthAdjust="spacingAndGlyphs">4</tspan><tspan x="1961.4" textLength="20.5" lengthAdjust="spacingAndGlyphs">9</tspan><tspan x="1981.9" font-size="37.5" textLength="18.0" lengthAdjust="spacingAndGlyphs">c</tspan><tspan x="1999.9" font-size="37.5" textLength="33.0" lengthAdjust="spacingAndGlyphs">m</tspan></text><text y="957.5" font-size="43.2"><tspan x="799.2" textLength="20.5" lengthAdjust="spacingAndGlyphs">2</tspan><tspan x="819.7" textLength="17.0" lengthAdjust="spacingAndGlyphs">-</tspan><tspan x="836.7" textLength="20.5" lengthAdjust="spacingAndGlyphs">3</tspan><tspan x="857.2" textLength="22.5" lengthAdjust="spacingAndGlyphs">Y</tspan></text><text y="957.5" font-size="43.2"><tspan x="938.1" textLength="20.5" lengthAdjust="spacingAndGlyphs">9</tspan><tspan x="958.6" textLength="20.5" lengthAdjust="spacingAndGlyphs">8</tspan><tspan x="979.1" font-size="37.1" textLength="18.0" lengthAdjust="spacingAndGlyphs">c</tspan><tspan x="997.1" font-size="37.1" textLength="33.0" lengthAdjust="spacingAndGlyphs">m</tspan></text><text y="957.5" font-size="43.2"><tspan x="1094.7" textLength="20.5" lengthAdjust="spacingAndGlyphs">3</tspan><tspan x="1115.2" textLength="17.5" lengthAdjust="spacingAndGlyphs">T</tspan></text><text y="957.5" font-size="43.2"><tspan x="1245.1" textLength="20.5" lengthAdjust="spacingAndGlyphs">3</tspan><tspan x="1265.6" textLength="12.5" lengthAdjust="spacingAndGlyphs">1</tspan><tspan x="1278.1" font-size="37.1" textLength="18.0" lengthAdjust="spacingAndGlyphs">c</tspan><tspan x="1296.1" font-size="37.1" textLength="33.0" lengthAdjust="spacingAndGlyphs">m</tspan></text><text y="957.5" font-size="43.2"><tspan x="1463.7" textLength="20.5" lengthAdjust="spacingAndGlyphs">3</tspan><tspan x="1484.2" textLength="21.5" lengthAdjust="spacingAndGlyphs">4</tspan><tspan x="1505.7" font-size="37.1" textLength="18.0" lengthAdjust="spacingAndGlyphs">c</tspan><tspan x="1523.7" font-size="37.1" textLength="33.0" lengthAdjust="spacingAndGlyphs">m</tspan></text><text y="957.5" font-size="43.2"><tspan x="1692.6" textLength="20.5" lengthAdjust="spacingAndGlyphs">3</tspan><tspan x="1713.1" textLength="20.5" lengthAdjust="spacingAndGlyphs">3</tspan><tspan x="1733.6" font-size="37.1" textLength="18.0" lengthAdjust="spacingAndGlyphs">c</tspan><tspan x="1751.6" font-size="37.1" textLength="33.0" lengthAdjust="spacingAndGlyphs">m</tspan></text><text y="957.5" font-size="43.2"><tspan x="1940.1" textLength="20.5" lengthAdjust="spacingAndGlyphs">5</tspan><tspan x="1960.6" textLength="20.5" lengthAdjust="spacingAndGlyphs">3</tspan><tspan x="1981.1" font-size="37.1" textLength="18.0" lengthAdjust="spacingAndGlyphs">c</tspan><tspan x="1999.1" font-size="37.1" textLength="33.0" lengthAdjust="spacingAndGlyphs">m</tspan></text><text y="1062.2" font-size="44.3"><tspan x="798.9" textLength="20.5" lengthAdjust="spacingAndGlyphs">3</tspan><tspan x="819.4" textLength="17.0" lengthAdjust="spacingAndGlyphs">-</tspan><tspan x="836.4" textLength="21.5" lengthAdjust="spacingAndGlyphs">4</tspan><tspan x="857.9" textLength="22.5" lengthAdjust="spacingAndGlyphs">Y</tspan></text><text y="1062.2" font-size="44.3"><tspan x="930.8" textLength="12.5" lengthAdjust="spacingAndGlyphs">1</tspan><tspan x="943.3" textLength="21.5" lengthAdjust="spacingAndGlyphs">0</tspan><tspan x="964.8" textLength="21.5" lengthAdjust="spacingAndGlyphs">4</tspan><tspan x="986.3" font-size="38.1" textLength="18.0" lengthAdjust="spacingAndGlyphs">c</tspan><tspan x="1004.3" font-size="38.1" textLength="33.0" lengthAdjust="spacingAndGlyphs">m</tspan></text><text y="1062.2" font-size="44.3"><tspan x="1103.4" textLength="21.5" lengthAdjust="spacingAndGlyphs">4</tspan></text><text y="1062.2" font-size="44.3"><tspan x="1240.6" textLength="20.5" lengthAdjust="spacingAndGlyphs">3</tspan><tspan x="1261.1" textLength="21.5" lengthAdjust="spacingAndGlyphs">4</tspan><tspan x="1282.6" font-size="38.1" textLength="18.0" lengthAdjust="spacingAndGlyphs">c</tspan><tspan x="1300.6" font-size="38.1" textLength="33.0" lengthAdjust="spacingAndGlyphs">m</tspan></text><text y="1062.2" font-size="44.3"><tspan x="1464.2" textLength="20.5" lengthAdjust="spacingAndGlyphs">3</tspan><tspan x="1484.7" textLength="20.5" lengthAdjust="spacingAndGlyphs">5</tspan><tspan x="1505.2" font-size="38.1" textLength="18.0" lengthAdjust="spacingAndGlyphs">c</tspan><tspan x="1523.2" font-size="38.1" textLength="33.0" lengthAdjust="spacingAndGlyphs">m</tspan></text><text y="1062.2" font-size="44.3"><tspan x="1692.6" textLength="20.5" lengthAdjust="spacingAndGlyphs">3</tspan><tspan x="1713.1" textLength="20.5" lengthAdjust="spacingAndGlyphs">6</tspan><tspan x="1733.6" font-size="38.1" textLength="18.0" lengthAdjust="spacingAndGlyphs">c</tspan><tspan x="1751.6" font-size="38.1" textLength="33.0" lengthAdjust="spacingAndGlyphs">m</tspan></text><text y="1062.2" font-size="44.3"><tspan x="1940.1" textLength="20.5" lengthAdjust="spacingAndGlyphs">5</tspan><tspan x="1960.6" textLength="20.5" lengthAdjust="spacingAndGlyphs">7</tspan><tspan x="1981.1" font-size="38.1" textLength="18.0" lengthAdjust="spacingAndGlyphs">c</tspan><tspan x="1999.1" font-size="38.1" textLength="33.0" lengthAdjust="spacingAndGlyphs">m</tspan></text><text y="1160.5" font-size="45.1"><tspan x="799.2" textLength="21.5" lengthAdjust="spacingAndGlyphs">4</tspan><tspan x="820.7" textLength="17.0" lengthAdjust="spacingAndGlyphs">-</tspan><tspan x="837.7" textLength="20.5" lengthAdjust="spacingAndGlyphs">5</tspan><tspan x="858.2" textLength="22.5" lengthAdjust="spacingAndGlyphs">Y</tspan></text><text y="1160.5" font-size="45.1"><tspan x="935.3" textLength="12.5" lengthAdjust="spacingAndGlyphs">1</tspan><tspan x="947.8" textLength="12.5" lengthAdjust="spacingAndGlyphs">1</tspan><tspan x="960.3" textLength="21.5" lengthAdjust="spacingAndGlyphs">0</tspan><tspan x="981.8" font-size="38.8" textLength="18.0" lengthAdjust="spacingAndGlyphs">c</tspan><tspan x="999.8" font-size="38.8" textLength="33.0" lengthAdjust="spacingAndGlyphs">m</tspan></text><text y="1160.5" font-size="45.1"><tspan x="1103.8" textLength="20.5" lengthAdjust="spacingAndGlyphs">5</tspan></text><text y="1160.5" font-size="45.1"><tspan x="1241.1" textLength="20.5" lengthAdjust="spacingAndGlyphs">3</tspan><tspan x="1261.6" textLength="20.5" lengthAdjust="spacingAndGlyphs">5</tspan><tspan x="1282.1" font-size="38.8" textLength="18.0" lengthAdjust="spacingAndGlyphs">c</tspan><tspan x="1300.1" font-size="38.8" textLength="33.0" lengthAdjust="spacingAndGlyphs">m</tspan></text><text y="1160.5" font-size="45.1"><tspan x="1464.2" textLength="20.5" lengthAdjust="spacingAndGlyphs">3</tspan><tspan x="1484.7" textLength="20.5" lengthAdjust="spacingAndGlyphs">6</tspan><tspan x="1505.2" font-size="38.8" textLength="18.0" lengthAdjust="spacingAndGlyphs">c</tspan><tspan x="1523.2" font-size="38.8" textLength="33.0" lengthAdjust="spacingAndGlyphs">m</tspan></text><text y="1160.5" font-size="45.1"><tspan x="1692.6" textLength="20.5" lengthAdjust="spacingAndGlyphs">3</tspan><tspan x="1713.1" textLength="20.5" lengthAdjust="spacingAndGlyphs">8</tspan><tspan x="1733.6" font-size="38.8" textLength="18.0" lengthAdjust="spacingAndGlyphs">c</tspan><tspan x="1751.6" font-size="38.8" textLength="33.0" lengthAdjust="spacingAndGlyphs">m</tspan></text><text y="1160.5" font-size="45.1"><tspan x="1943.9" textLength="20.5" lengthAdjust="spacingAndGlyphs">6</tspan><tspan x="1964.4" textLength="12.5" lengthAdjust="spacingAndGlyphs">1</tspan><tspan x="1976.9" font-size="38.8" textLength="18.0" lengthAdjust="spacingAndGlyphs">c</tspan><tspan x="1994.9" font-size="38.8" textLength="33.0" lengthAdjust="spacingAndGlyphs">m</tspan></text><text y="1262.2" font-size="44.5"><tspan x="799.4" textLength="20.5" lengthAdjust="spacingAndGlyphs">5</tspan><tspan x="819.9" textLength="17.0" lengthAdjust="spacingAndGlyphs">-</tspan><tspan x="836.9" textLength="20.5" lengthAdjust="spacingAndGlyphs">6</tspan><tspan x="857.4" textLength="22.5" lengthAdjust="spacingAndGlyphs">Y</tspan></text><text y="1262.2" font-size="44.5"><tspan x="935.8" textLength="12.5" lengthAdjust="spacingAndGlyphs">1</tspan><tspan x="948.3" textLength="12.5" lengthAdjust="spacingAndGlyphs">1</tspan><tspan x="960.8" textLength="20.5" lengthAdjust="spacingAndGlyphs">6</tspan><tspan x="981.3" font-size="38.3" textLength="18.0" lengthAdjust="spacingAndGlyphs">c</tspan><tspan x="999.3" font-size="38.3" textLength="33.0" lengthAdjust="spacingAndGlyphs">m</tspan></text><text y="1262.2" font-size="44.5"><tspan x="1103.7" textLength="20.5" lengthAdjust="spacingAndGlyphs">6</tspan></text><text y="1262.2" font-size="44.5"><tspan x="1241.1" textLength="20.5" lengthAdjust="spacingAndGlyphs">3</tspan><tspan x="1261.6" textLength="20.5" lengthAdjust="spacingAndGlyphs">6</tspan><tspan x="1282.1" font-size="38.3" textLength="18.0" lengthAdjust="spacingAndGlyphs">c</tspan><tspan x="1300.1" font-size="38.3" textLength="33.0" lengthAdjust="spacingAndGlyphs">m</tspan></text><text y="1262.2" font-size="44.5"><tspan x="1464.2" textLength="20.5" lengthAdjust="spacingAndGlyphs">3</tspan><tspan x="1484.7" textLength="20.5" lengthAdjust="spacingAndGlyphs">7</tspan><tspan x="1505.2" font-size="38.3" textLength="18.0" lengthAdjust="spacingAndGlyphs">c</tspan><tspan x="1523.2" font-size="38.3" textLength="33.0" lengthAdjust="spacingAndGlyphs">m</tspan></text><text y="1262.2" font-size="44.5"><tspan x="1691.8" textLength="21.5" lengthAdjust="spacingAndGlyphs">4</tspan><tspan x="1713.3" textLength="21.5" lengthAdjust="spacingAndGlyphs">0</tspan><tspan x="1734.8" font-size="38.3" textLength="18.0" lengthAdjust="spacingAndGlyphs">c</tspan><tspan x="1752.8" font-size="38.3" textLength="33.0" lengthAdjust="spacingAndGlyphs">m</tspan></text><text y="1262.2" font-size="44.5"><tspan x="1939.9" textLength="20.5" lengthAdjust="spacingAndGlyphs">6</tspan><tspan x="1960.4" textLength="20.5" lengthAdjust="spacingAndGlyphs">5</tspan><tspan x="1980.9" font-size="38.3" textLength="18.0" lengthAdjust="spacingAndGlyphs">c</tspan><tspan x="1998.9" font-size="38.3" textLength="33.0" lengthAdjust="spacingAndGlyphs">m</tspan></text><text y="1369.0" font-size="44.6"><tspan x="799.2" textLength="20.5" lengthAdjust="spacingAndGlyphs">6</tspan><tspan x="819.7" textLength="17.0" lengthAdjust="spacingAndGlyphs">-</tspan><tspan x="836.7" textLength="20.5" lengthAdjust="spacingAndGlyphs">7</tspan><tspan x="857.2" textLength="22.5" lengthAdjust="spacingAndGlyphs">Y</tspan></text><text y="1369.0" font-size="44.6"><tspan x="931.8" textLength="12.5" lengthAdjust="spacingAndGlyphs">1</tspan><tspan x="944.3" textLength="20.5" lengthAdjust="spacingAndGlyphs">2</tspan><tspan x="964.8" textLength="20.5" lengthAdjust="spacingAndGlyphs">2</tspan><tspan x="985.3" font-size="38.4" textLength="18.0" lengthAdjust="spacingAndGlyphs">c</tspan><tspan x="1003.3" font-size="38.4" textLength="33.0" lengthAdjust="spacingAndGlyphs">m</tspan></text><text y="1369.0" font-size="44.6"><tspan x="1103.8" textLength="20.5" lengthAdjust="spacingAndGlyphs">7</tspan></text><text y="1369.0" font-size="44.6"><tspan x="1241.1" textLength="20.5" lengthAdjust="spacingAndGlyphs">3</tspan><tspan x="1261.6" textLength="20.5" lengthAdjust="spacingAndGlyphs">7</tspan><tspan x="1282.1" font-size="38.4" textLength="18.0" lengthAdjust="spacingAndGlyphs">c</tspan><tspan x="1300.1" font-size="38.4" textLength="33.0" lengthAdjust="spacingAndGlyphs">m</tspan></text><text y="1369.0" font-size="44.6"><tspan x="1464.2" textLength="20.5" lengthAdjust="spacingAndGlyphs">3</tspan><tspan x="1484.7" textLength="20.5" lengthAdjust="spacingAndGlyphs">8</tspan><tspan x="1505.2" font-size="38.4" textLength="18.0" lengthAdjust="spacingAndGlyphs">c</tspan><tspan x="1523.2" font-size="38.4" textLength="33.0" lengthAdjust="spacingAndGlyphs">m</tspan></text><text y="1369.0" font-size="44.6"><tspan x="1692.3" textLength="21.5" lengthAdjust="spacingAndGlyphs">4</tspan><tspan x="1713.8" textLength="20.5" lengthAdjust="spacingAndGlyphs">2</tspan><tspan x="1734.3" font-size="38.4" textLength="18.0" lengthAdjust="spacingAndGlyphs">c</tspan><tspan x="1752.3" font-size="38.4" textLength="33.0" lengthAdjust="spacingAndGlyphs">m</tspan></text><text y="1369.0" font-size="44.6"><tspan x="1939.9" textLength="20.5" lengthAdjust="spacingAndGlyphs">6</tspan><tspan x="1960.4" textLength="20.5" lengthAdjust="spacingAndGlyphs">9</tspan><tspan x="1980.9" font-size="38.4" textLength="18.0" lengthAdjust="spacingAndGlyphs">c</tspan><tspan x="1998.9" font-size="38.4" textLength="33.0" lengthAdjust="spacingAndGlyphs">m</tspan></text><text y="1472.5" font-size="44.3"><tspan x="799.2" textLength="20.5" lengthAdjust="spacingAndGlyphs">7</tspan><tspan x="819.7" textLength="17.0" lengthAdjust="spacingAndGlyphs">-</tspan><tspan x="836.7" textLength="20.5" lengthAdjust="spacingAndGlyphs">8</tspan><tspan x="857.2" textLength="22.5" lengthAdjust="spacingAndGlyphs">Y</tspan></text><text y="1472.5" font-size="44.3"><tspan x="931.8" textLength="12.5" lengthAdjust="spacingAndGlyphs">1</tspan><tspan x="944.3" textLength="20.5" lengthAdjust="spacingAndGlyphs">2</tspan><tspan x="964.8" textLength="20.5" lengthAdjust="spacingAndGlyphs">8</tspan><tspan x="985.3" font-size="38.1" textLength="18.0" lengthAdjust="spacingAndGlyphs">c</tspan><tspan x="1003.3" font-size="38.1" textLength="33.0" lengthAdjust="spacingAndGlyphs">m</tspan></text><text y="1472.5" font-size="44.3"><tspan x="1103.8" textLength="20.5" lengthAdjust="spacingAndGlyphs">8</tspan></text><text y="1472.5" font-size="44.3"><tspan x="1241.1" textLength="20.5" lengthAdjust="spacingAndGlyphs">3</tspan><tspan x="1261.6" textLength="20.5" lengthAdjust="spacingAndGlyphs">8</tspan><tspan x="1282.1" font-size="38.1" textLength="18.0" lengthAdjust="spacingAndGlyphs">c</tspan><tspan x="1300.1" font-size="38.1" textLength="33.0" lengthAdjust="spacingAndGlyphs">m</tspan></text><text y="1472.5" font-size="44.3"><tspan x="1463.4" textLength="21.5" lengthAdjust="spacingAndGlyphs">4</tspan><tspan x="1484.9" textLength="21.5" lengthAdjust="spacingAndGlyphs">0</tspan><tspan x="1506.4" font-size="38.1" textLength="18.0" lengthAdjust="spacingAndGlyphs">c</tspan><tspan x="1524.4" font-size="38.1" textLength="33.0" lengthAdjust="spacingAndGlyphs">m</tspan></text><text y="1472.5" font-size="44.3"><tspan x="1691.8" textLength="21.5" lengthAdjust="spacingAndGlyphs">4</tspan><tspan x="1713.3" textLength="21.5" lengthAdjust="spacingAndGlyphs">4</tspan><tspan x="1734.8" font-size="38.1" textLength="18.0" lengthAdjust="spacingAndGlyphs">c</tspan><tspan x="1752.8" font-size="38.1" textLength="33.0" lengthAdjust="spacingAndGlyphs">m</tspan></text><text y="1472.5" font-size="44.3"><tspan x="1939.4" textLength="20.5" lengthAdjust="spacingAndGlyphs">7</tspan><tspan x="1959.9" textLength="21.5" lengthAdjust="spacingAndGlyphs">4</tspan><tspan x="1981.4" font-size="38.1" textLength="18.0" lengthAdjust="spacingAndGlyphs">c</tspan><tspan x="1999.4" font-size="38.1" textLength="33.0" lengthAdjust="spacingAndGlyphs">m</tspan></text><text y="1561.0" font-size="43.3"><tspan x="799.3" textLength="20.5" lengthAdjust="spacingAndGlyphs">8</tspan><tspan x="819.8" textLength="17.0" lengthAdjust="spacingAndGlyphs">-</tspan><tspan x="836.8" textLength="20.5" lengthAdjust="spacingAndGlyphs">9</tspan><tspan x="857.3" textLength="22.5" lengthAdjust="spacingAndGlyphs">Y</tspan></text><text y="1561.0" font-size="43.3"><tspan x="931.3" textLength="12.5" lengthAdjust="spacingAndGlyphs">1</tspan><tspan x="943.8" textLength="20.5" lengthAdjust="spacingAndGlyphs">3</tspan><tspan x="964.3" textLength="21.5" lengthAdjust="spacingAndGlyphs">4</tspan><tspan x="985.8" font-size="37.3" textLength="18.0" lengthAdjust="spacingAndGlyphs">c</tspan><tspan x="1003.8" font-size="37.3" textLength="33.0" lengthAdjust="spacingAndGlyphs">m</tspan></text><text y="1561.0" font-size="43.3"><tspan x="1103.8" textLength="20.5" lengthAdjust="spacingAndGlyphs">8</tspan></text><text y="1561.0" font-size="43.3"><tspan x="1241.1" textLength="20.5" lengthAdjust="spacingAndGlyphs">3</tspan><tspan x="1261.6" textLength="20.5" lengthAdjust="spacingAndGlyphs">9</tspan><tspan x="1282.1" font-size="37.3" textLength="18.0" lengthAdjust="spacingAndGlyphs">c</tspan><tspan x="1300.1" font-size="37.3" textLength="33.0" lengthAdjust="spacingAndGlyphs">m</tspan></text><text y="1561.0" font-size="43.3"><tspan x="1467.9" textLength="21.5" lengthAdjust="spacingAndGlyphs">4</tspan><tspan x="1489.4" textLength="12.5" lengthAdjust="spacingAndGlyphs">1</tspan><tspan x="1501.9" font-size="37.3" textLength="18.0" lengthAdjust="spacingAndGlyphs">c</tspan><tspan x="1519.9" font-size="37.3" textLength="33.0" lengthAdjust="spacingAndGlyphs">m</tspan></text><text y="1561.0" font-size="43.3"><tspan x="1692.3" textLength="21.5" lengthAdjust="spacingAndGlyphs">4</tspan><tspan x="1713.8" textLength="20.5" lengthAdjust="spacingAndGlyphs">6</tspan><tspan x="1734.3" font-size="37.3" textLength="18.0" lengthAdjust="spacingAndGlyphs">c</tspan><tspan x="1752.3" font-size="37.3" textLength="33.0" lengthAdjust="spacingAndGlyphs">m</tspan></text><text y="1561.0" font-size="43.3"><tspan x="1939.9" textLength="20.5" lengthAdjust="spacingAndGlyphs">7</tspan><tspan x="1960.4" textLength="20.5" lengthAdjust="spacingAndGlyphs">9</tspan><tspan x="1980.9" font-size="37.3" textLength="18.0" lengthAdjust="spacingAndGlyphs">c</tspan><tspan x="1998.9" font-size="37.3" textLength="33.0" lengthAdjust="spacingAndGlyphs">m</tspan></text><text y="1660.0" font-size="43.3"><tspan x="792.5" textLength="20.5" lengthAdjust="spacingAndGlyphs">9</tspan><tspan x="813.0" textLength="17.0" lengthAdjust="spacingAndGlyphs">-</tspan><tspan x="830.0" textLength="12.5" lengthAdjust="spacingAndGlyphs">1</tspan><tspan x="842.5" textLength="21.5" lengthAdjust="spacingAndGlyphs">0</tspan><tspan x="864.0" textLength="22.5" lengthAdjust="spacingAndGlyphs">Y</tspan></text><text y="1660.0" font-size="43.3"><tspan x="930.8" textLength="12.5" lengthAdjust="spacingAndGlyphs">1</tspan><tspan x="943.3" textLength="21.5" lengthAdjust="spacingAndGlyphs">4</tspan><tspan x="964.8" textLength="21.5" lengthAdjust="spacingAndGlyphs">0</tspan><tspan x="986.3" font-size="37.3" textLength="18.0" lengthAdjust="spacingAndGlyphs">c</tspan><tspan x="1004.3" font-size="37.3" textLength="33.0" lengthAdjust="spacingAndGlyphs">m</tspan></text><text y="1660.0" font-size="43.3"><tspan x="1096.9" textLength="12.5" lengthAdjust="spacingAndGlyphs">1</tspan><tspan x="1109.4" textLength="21.5" lengthAdjust="spacingAndGlyphs">0</tspan></text><text y="1660.0" font-size="43.3"><tspan x="1240.4" textLength="21.5" lengthAdjust="spacingAndGlyphs">4</tspan><tspan x="1261.9" textLength="21.5" lengthAdjust="spacingAndGlyphs">0</tspan><tspan x="1283.4" font-size="37.3" textLength="18.0" lengthAdjust="spacingAndGlyphs">c</tspan><tspan x="1301.4" font-size="37.3" textLength="33.0" lengthAdjust="spacingAndGlyphs">m</tspan></text><text y="1660.0" font-size="43.3"><tspan x="1463.9" textLength="21.5" lengthAdjust="spacingAndGlyphs">4</tspan><tspan x="1485.4" textLength="20.5" lengthAdjust="spacingAndGlyphs">2</tspan><tspan x="1505.9" font-size="37.3" textLength="18.0" lengthAdjust="spacingAndGlyphs">c</tspan><tspan x="1523.9" font-size="37.3" textLength="33.0" lengthAdjust="spacingAndGlyphs">m</tspan></text><text y="1660.0" font-size="43.3"><tspan x="1692.3" textLength="21.5" lengthAdjust="spacingAndGlyphs">4</tspan><tspan x="1713.8" textLength="20.5" lengthAdjust="spacingAndGlyphs">8</tspan><tspan x="1734.3" font-size="37.3" textLength="18.0" lengthAdjust="spacingAndGlyphs">c</tspan><tspan x="1752.3" font-size="37.3" textLength="33.0" lengthAdjust="spacingAndGlyphs">m</tspan></text><text y="1660.0" font-size="43.3"><tspan x="1939.5" textLength="20.5" lengthAdjust="spacingAndGlyphs">8</tspan><tspan x="1960.0" textLength="21.5" lengthAdjust="spacingAndGlyphs">4</tspan><tspan x="1981.5" font-size="37.3" textLength="18.0" lengthAdjust="spacingAndGlyphs">c</tspan><tspan x="1999.5" font-size="37.3" textLength="33.0" lengthAdjust="spacingAndGlyphs">m</tspan></text><text y="1766.1" font-size="42.9"><tspan x="790.3" textLength="12.5" lengthAdjust="spacingAndGlyphs">1</tspan><tspan x="802.8" textLength="21.5" lengthAdjust="spacingAndGlyphs">0</tspan><tspan x="824.3" textLength="17.0" lengthAdjust="spacingAndGlyphs">-</tspan><tspan x="841.3" textLength="12.5" lengthAdjust="spacingAndGlyphs">1</tspan><tspan x="853.8" textLength="12.5" lengthAdjust="spacingAndGlyphs">1</tspan><tspan x="866.3" textLength="22.5" lengthAdjust="spacingAndGlyphs">Y</tspan></text><text y="1766.1" font-size="42.9"><tspan x="931.3" textLength="12.5" lengthAdjust="spacingAndGlyphs">1</tspan><tspan x="943.8" textLength="21.5" lengthAdjust="spacingAndGlyphs">4</tspan><tspan x="965.3" textLength="20.5" lengthAdjust="spacingAndGlyphs">6</tspan><tspan x="985.8" font-size="36.9" textLength="18.0" lengthAdjust="spacingAndGlyphs">c</tspan><tspan x="1003.8" font-size="36.9" textLength="33.0" lengthAdjust="spacingAndGlyphs">m</tspan></text><text y="1766.1" font-size="42.9"><tspan x="1097.6" textLength="12.5" lengthAdjust="spacingAndGlyphs">1</tspan><tspan x="1110.1" textLength="20.5" lengthAdjust="spacingAndGlyphs">2</tspan></text><text y="1766.1" font-size="42.9"><tspan x="1244.9" textLength="21.5" lengthAdjust="spacingAndGlyphs">4</tspan><tspan x="1266.4" textLength="12.5" lengthAdjust="spacingAndGlyphs">1</tspan><tspan x="1278.9" font-size="36.9" textLength="18.0" lengthAdjust="spacingAndGlyphs">c</tspan><tspan x="1296.9" font-size="36.9" textLength="33.0" lengthAdjust="spacingAndGlyphs">m</tspan></text><text y="1766.1" font-size="42.9"><tspan x="1463.9" textLength="21.5" lengthAdjust="spacingAndGlyphs">4</tspan><tspan x="1485.4" textLength="20.5" lengthAdjust="spacingAndGlyphs">3</tspan><tspan x="1505.9" font-size="36.9" textLength="18.0" lengthAdjust="spacingAndGlyphs">c</tspan><tspan x="1523.9" font-size="36.9" textLength="33.0" lengthAdjust="spacingAndGlyphs">m</tspan></text><text y="1766.1" font-size="42.9"><tspan x="1692.0" textLength="20.5" lengthAdjust="spacingAndGlyphs">5</tspan><tspan x="1712.5" textLength="21.5" lengthAdjust="spacingAndGlyphs">0</tspan><tspan x="1734.0" font-size="36.9" textLength="18.0" lengthAdjust="spacingAndGlyphs">c</tspan><tspan x="1752.0" font-size="36.9" textLength="33.0" lengthAdjust="spacingAndGlyphs">m</tspan></text><text y="1766.1" font-size="42.9"><tspan x="1940.0" textLength="20.5" lengthAdjust="spacingAndGlyphs">8</tspan><tspan x="1960.5" textLength="20.5" lengthAdjust="spacingAndGlyphs">9</tspan><tspan x="1981.0" font-size="36.9" textLength="18.0" lengthAdjust="spacingAndGlyphs">c</tspan><tspan x="1999.0" font-size="36.9" textLength="33.0" lengthAdjust="spacingAndGlyphs">m</tspan></text><text y="1860.6" font-size="42.2"><tspan x="790.8" textLength="12.5" lengthAdjust="spacingAndGlyphs">1</tspan><tspan x="803.3" textLength="12.5" lengthAdjust="spacingAndGlyphs">1</tspan><tspan x="815.8" textLength="17.0" lengthAdjust="spacingAndGlyphs">-</tspan><tspan x="832.8" textLength="12.5" lengthAdjust="spacingAndGlyphs">1</tspan><tspan x="845.3" textLength="20.5" lengthAdjust="spacingAndGlyphs">2</tspan><tspan x="865.8" textLength="22.5" lengthAdjust="spacingAndGlyphs">Y</tspan></text><text y="1860.6" font-size="42.2"><tspan x="931.8" textLength="12.5" lengthAdjust="spacingAndGlyphs">1</tspan><tspan x="944.3" textLength="20.5" lengthAdjust="spacingAndGlyphs">5</tspan><tspan x="964.8" textLength="20.5" lengthAdjust="spacingAndGlyphs">2</tspan><tspan x="985.3" font-size="36.3" textLength="18.0" lengthAdjust="spacingAndGlyphs">c</tspan><tspan x="1003.3" font-size="36.3" textLength="33.0" lengthAdjust="spacingAndGlyphs">m</tspan></text><text y="1860.6" font-size="42.2"><tspan x="1097.6" textLength="12.5" lengthAdjust="spacingAndGlyphs">1</tspan><tspan x="1110.1" textLength="20.5" lengthAdjust="spacingAndGlyphs">2</tspan></text><text y="1860.6" font-size="42.2"><tspan x="1240.9" textLength="21.5" lengthAdjust="spacingAndGlyphs">4</tspan><tspan x="1262.4" textLength="20.5" lengthAdjust="spacingAndGlyphs">2</tspan><tspan x="1282.9" font-size="36.3" textLength="18.0" lengthAdjust="spacingAndGlyphs">c</tspan><tspan x="1300.9" font-size="36.3" textLength="33.0" lengthAdjust="spacingAndGlyphs">m</tspan></text><text y="1860.6" font-size="42.2"><tspan x="1463.4" textLength="21.5" lengthAdjust="spacingAndGlyphs">4</tspan><tspan x="1484.9" textLength="21.5" lengthAdjust="spacingAndGlyphs">4</tspan><tspan x="1506.4" font-size="36.3" textLength="18.0" lengthAdjust="spacingAndGlyphs">c</tspan><tspan x="1524.4" font-size="36.3" textLength="33.0" lengthAdjust="spacingAndGlyphs">m</tspan></text><text y="1860.6" font-size="42.2"><tspan x="1692.5" textLength="20.5" lengthAdjust="spacingAndGlyphs">5</tspan><tspan x="1713.0" textLength="20.5" lengthAdjust="spacingAndGlyphs">2</tspan><tspan x="1733.5" font-size="36.3" textLength="18.0" lengthAdjust="spacingAndGlyphs">c</tspan><tspan x="1751.5" font-size="36.3" textLength="33.0" lengthAdjust="spacingAndGlyphs">m</tspan></text><text y="1860.6" font-size="42.2"><tspan x="1939.9" textLength="20.5" lengthAdjust="spacingAndGlyphs">9</tspan><tspan x="1960.4" textLength="20.5" lengthAdjust="spacingAndGlyphs">6</tspan><tspan x="1980.9" font-size="36.3" textLength="18.0" lengthAdjust="spacingAndGlyphs">c</tspan><tspan x="1998.9" font-size="36.3" textLength="33.0" lengthAdjust="spacingAndGlyphs">m</tspan></text><text y="1968.0" font-size="46.5"><tspan x="786.8" textLength="12.5" lengthAdjust="spacingAndGlyphs">1</tspan><tspan x="799.3" textLength="20.5" lengthAdjust="spacingAndGlyphs">2</tspan><tspan x="819.8" textLength="17.0" lengthAdjust="spacingAndGlyphs">-</tspan><tspan x="836.8" textLength="12.5" lengthAdjust="spacingAndGlyphs">1</tspan><tspan x="849.3" textLength="20.5" lengthAdjust="spacingAndGlyphs">3</tspan><tspan x="869.8" textLength="22.5" lengthAdjust="spacingAndGlyphs">Y</tspan></text><text y="1968.0" font-size="46.5"><tspan x="931.8" textLength="12.5" lengthAdjust="spacingAndGlyphs">1</tspan><tspan x="944.3" textLength="20.5" lengthAdjust="spacingAndGlyphs">5</tspan><tspan x="964.8" textLength="20.5" lengthAdjust="spacingAndGlyphs">8</tspan><tspan x="985.3" font-size="40.0" textLength="18.0" lengthAdjust="spacingAndGlyphs">c</tspan><tspan x="1003.3" font-size="40.0" textLength="33.0" lengthAdjust="spacingAndGlyphs">m</tspan></text><text y="1968.0" font-size="46.5"><tspan x="1096.8" textLength="12.5" lengthAdjust="spacingAndGlyphs">1</tspan><tspan x="1109.3" textLength="21.5" lengthAdjust="spacingAndGlyphs">4</tspan></text><text y="1968.0" font-size="46.5"><tspan x="1240.4" textLength="21.5" lengthAdjust="spacingAndGlyphs">4</tspan><tspan x="1261.9" textLength="21.5" lengthAdjust="spacingAndGlyphs">4</tspan><tspan x="1283.4" font-size="40.0" textLength="18.0" lengthAdjust="spacingAndGlyphs">c</tspan><tspan x="1301.4" font-size="40.0" textLength="33.0" lengthAdjust="spacingAndGlyphs">m</tspan></text><text y="1968.0" font-size="46.5"><tspan x="1463.9" textLength="21.5" lengthAdjust="spacingAndGlyphs">4</tspan><tspan x="1485.4" textLength="20.5" lengthAdjust="spacingAndGlyphs">6</tspan><tspan x="1505.9" font-size="40.0" textLength="18.0" lengthAdjust="spacingAndGlyphs">c</tspan><tspan x="1523.9" font-size="40.0" textLength="33.0" lengthAdjust="spacingAndGlyphs">m</tspan></text><text y="1968.0" font-size="46.5"><tspan x="1692.0" textLength="20.5" lengthAdjust="spacingAndGlyphs">5</tspan><tspan x="1712.5" textLength="21.5" lengthAdjust="spacingAndGlyphs">4</tspan><tspan x="1734.0" font-size="40.0" textLength="18.0" lengthAdjust="spacingAndGlyphs">c</tspan><tspan x="1752.0" font-size="40.0" textLength="33.0" lengthAdjust="spacingAndGlyphs">m</tspan></text><text y="1968.0" font-size="46.5"><tspan x="1933.2" textLength="12.5" lengthAdjust="spacingAndGlyphs">1</tspan><tspan x="1945.7" textLength="21.5" lengthAdjust="spacingAndGlyphs">0</tspan><tspan x="1967.2" textLength="20.5" lengthAdjust="spacingAndGlyphs">3</tspan><tspan x="1987.7" font-size="40.0" textLength="18.0" lengthAdjust="spacingAndGlyphs">c</tspan><tspan x="2005.7" font-size="40.0" textLength="33.0" lengthAdjust="spacingAndGlyphs">m</tspan></text>
</g>
</svg>
</body></html>
